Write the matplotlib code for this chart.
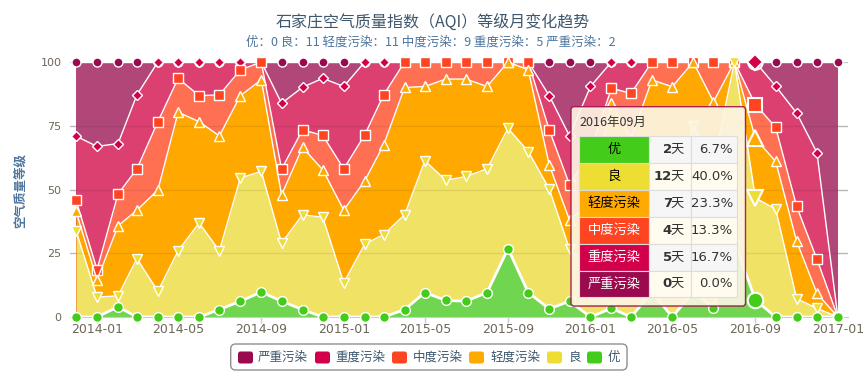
import numpy as np
import pandas as pd
import matplotlib
matplotlib.use('Agg')
import matplotlib.pyplot as plt
import matplotlib.dates as mdates
from matplotlib.patches import FancyBboxPatch, Rectangle

plt.rcParams['font.family'] = ['DejaVu Sans', 'Noto Sans CJK SC']
CJK = ['Noto Sans CJK SC', 'DejaVu Sans']

# ── Data: monthly share (%) of days per AQI level, 2013-12 … 2017-01 ─────────
months = pd.date_range('2013-12-01', periods=38, freq='MS')

pct_you = [0, 0, 4.0, 0, 0, 0, 0, 2.9, 6.2, 9.8,
           6.2, 2.9, 0, 0, 0, 0, 2.9, 9.6, 6.5, 6.2,
           9.6, 26.8, 9.6, 3.2, 6.2, 0, 3.4, 0, 9.8, 0,
           9.8, 3.6, 29.5, 6.7, 0, 0, 0, 0]
pct_liang = [33.8, 7.8, 4.3, 22.9, 10.1, 26.0, 36.9, 23.1, 48.3, 47.3,
             22.8, 37.2, 39.1, 13.4, 28.6, 32.3, 37.2, 51.7, 47.1, 48.9,
             48.5, 47.2, 55.3, 47.1, 20.4, 20.0, 41.6, 35.0, 45.2, 50.0,
             65.2, 56.4, 70.5, 40.0, 42.3, 7.2, 3.4, 0]
pct_light = [7.6, 6.7, 27.4, 19.0, 39.7, 54.3, 39.7, 45.0, 32.3, 35.9,
             18.9, 26.4, 18.6, 28.5, 24.8, 35.2, 49.9, 29.1, 39.7, 38.2,
             32.3, 26.0, 32.0, 9.4, 11.4, 25.0, 38.8, 35.0, 38.0, 40.3,
             25.0, 24.4, 0, 23.3, 18.7, 22.5, 5.9, 0]
pct_moderate = [4.4, 4.1, 12.5, 16.2, 26.8, 13.3, 10.2, 16.1, 10.1, 7.0,
                10.1, 6.9, 13.5, 16.2, 18.0, 19.6, 10.0, 9.6, 6.7, 6.7,
                9.6, 0, 3.1, 13.7, 13.9, 20.0, 5.9, 17.7, 7.0, 9.7,
                0, 15.6, 0, 13.3, 13.4, 13.7, 13.4, 0]
pct_heavy = [25.1, 48.3, 19.8, 29.0, 23.4, 6.4, 13.2, 12.9, 3.1, 0,
             25.8, 16.7, 22.4, 32.3, 28.6, 12.9, 0, 0, 0, 0,
             0, 0, 0, 13.4, 19.1, 25.4, 10.3, 12.3, 0, 0,
             0, 0, 0, 16.7, 16.1, 36.6, 41.8, 0]
pct_severe = [29.1, 33.1, 32.0, 12.9, 0, 0, 0, 0, 0, 0,
              16.2, 9.9, 6.4, 9.6, 0, 0, 0, 0, 0, 0,
              0, 0, 0, 13.2, 29.0, 9.6, 0, 0, 0, 0,
              0, 0, 0, 0, 9.5, 20.0, 35.5, 100]

# tooltip month (2016-09), day counts per level, from 优 to 严重污染
tip_label = '2016年09月'
tip_names = ['优', '良', '轻度污染', '中度污染', '重度污染', '严重污染']
tip_days = [2, 12, 7, 4, 5, 0]

legend_names = ['严重污染', '重度污染', '中度污染', '轻度污染', '良', '优']
title = '石家庄空气质量指数（AQI）等级月变化趋势'
subtitle = '优：0 良：11 轻度污染：11 中度污染：9 重度污染：5 严重污染：2'

# ── Styles (bottom → top of the stack) ───────────────────────────────────────
series = [pct_you, pct_liang, pct_light, pct_moderate, pct_heavy, pct_severe]
COLORS = ['#44CC1A', '#EEDD33', '#FFAA00', '#FF4422', '#D2004A', '#9B0A4E']
FILLS = ['#70D650', '#F0E264', '#FFA800', '#FF7052', '#DC4070', '#B14778']
MARKERS = ['o', 'v', '^', 's', 'D', 'o']
MSIZE = [7, 7, 7, 6.5, 5, 6.5]
TEXT_BLUE = '#3E576F'
AXIS_GREY = '#6E6658'

W, H = 866, 383
fig = plt.figure(figsize=(W / 100, H / 100), dpi=100)
ax = fig.add_axes([70 / W, 1 - 317 / H, (848 - 70) / W, (317 - 62) / H])

x = mdates.date2num(months)
cum = np.cumsum(np.array(series, dtype=float), axis=0)

# gridlines under everything (visible only outside the data span)
for v in [25, 50, 75, 100]:
    ax.axhline(v, color='#C8C8C8', lw=1, zorder=0.5)

# areas: paint from the top of the stack downwards, each from 0
for k in range(5, -1, -1):
    ax.fill_between(x, 0, cum[k], color=FILLS[k], lw=0, zorder=1)

# gridlines showing through the semi-transparent fills
for v in [25, 50, 75]:
    ax.axhline(v, color='black', alpha=0.08, lw=1, zorder=2)

# white series lines and markers (严重 drawn first, 优 last)
for k in range(5, -1, -1):
    z = 3 + (5 - k)
    ax.plot(x, cum[k], color='white', lw=2 if k == 0 else 1, zorder=z)
    ax.plot(x, cum[k], ls='none', marker=MARKERS[k], ms=MSIZE[k],
            mfc=COLORS[k], mec='white', mew=1, zorder=z + 0.5, clip_on=False)

# hovered month: enlarged markers
hi = 33
for k in range(5, -1, -1):
    ax.plot(x[hi], cum[k][hi], ls='none', marker=MARKERS[k], ms=MSIZE[k] * 1.6,
            mfc=COLORS[k], mec='white', mew=1.5, zorder=20, clip_on=False)

ax.set_ylim(0, 100)
ax.set_xlim(x[0] - 9, x[-1] + 15)
ax.set_yticks([0, 25, 50, 75, 100])
ax.tick_params(axis='y', length=0, pad=6, labelsize=8, labelcolor=AXIS_GREY)
ticks = pd.date_range('2014-01-01', '2017-01-01', freq='4MS')
ax.set_xticks(mdates.date2num(ticks))
ax.set_xticklabels([t.strftime('%Y-%m') for t in ticks])
ax.tick_params(axis='x', length=4, width=1, color='#C0D0E0', pad=0,
               labelsize=9, labelcolor=AXIS_GREY)
for name, sp in ax.spines.items():
    sp.set_visible(name == 'bottom')
ax.spines['bottom'].set_color('#C0D0E0')
ax.spines['bottom'].set_zorder(2.5)
ax.patch.set_visible(False)

# ── Overlay in pixel coordinates for titles, tooltip and legend ─────────────
ov = fig.add_axes([0, 0, 1, 1])
ov.set_xlim(0, W)
ov.set_ylim(H, 0)
ov.axis('off')
ov.set_zorder(10)

ov.text(433, 22, title, ha='center', va='center', fontsize=11.5,
        color=TEXT_BLUE, family=CJK)
ov.text(431, 42, subtitle, ha='center', va='center', fontsize=9,
        color='#4D759E', family=CJK)
ov.text(20, 190, '空气质量等级', ha='center', va='center', rotation=90,
        fontsize=9, fontweight='bold', color='#4D759E', family=CJK)

# tooltip
ov.add_patch(FancyBboxPatch((572, 108), 174, 199, boxstyle='round,pad=0,rounding_size=3',
                            fc='black', ec='none', alpha=0.08))
ov.add_patch(FancyBboxPatch((571, 106.7), 174.5, 199.3, boxstyle='round,pad=0,rounding_size=3',
                            fc='#FFF8E8', ec='#A0104E', lw=1, alpha=0.9))
ov.text(579, 122.5, tip_label, ha='left', va='center', fontsize=9,
        color='#333333', family=CJK)
total = sum(tip_days)
cols = [579, 649.3, 690.7, 737.3]
row_h = 26.9
for r, (nm, d) in enumerate(zip(tip_names, tip_days)):
    y0 = 136 + r * row_h
    ov.add_patch(Rectangle((cols[0], y0), cols[1] - cols[0], row_h,
                           fc=COLORS[r], ec='#DDDDDD', lw=0.8))
    bg = '#F6F6F6' if r % 2 == 0 else '#FFFBEF'
    for c in (1, 2):
        ov.add_patch(Rectangle((cols[c], y0), cols[c + 1] - cols[c], row_h,
                               fc=bg, ec='#DDDDDD', lw=0.8))
    yc = y0 + row_h / 2
    ov.text((cols[0] + cols[1]) / 2, yc, nm, ha='center', va='center', fontsize=9.5,
            color='black' if r < 3 else 'white', family=CJK)
    ov.text(684, yc, '天', ha='right', va='center', fontsize=9.5,
            color='#333333', family=CJK)
    ov.text(672, yc, str(d), ha='right', va='center', fontsize=9.5,
            fontweight='bold', color='#333333')
    ov.text(733, yc, f'{d / total * 100:.1f}%', ha='right', va='center',
            fontsize=9.5, color='#333333')

# legend
ov.add_patch(FancyBboxPatch((230.7, 344), 396.3, 26, boxstyle='round,pad=0,rounding_size=5',
                            fc='white', ec='#909090', lw=1))
sq_x = [238, 315, 392, 469, 547, 587]
txt_x = [258, 335, 413, 490, 568, 608]
legend_colors = COLORS[::-1]
for sx, tx, nm, col in zip(sq_x, txt_x, legend_names, legend_colors):
    ov.add_patch(FancyBboxPatch((sx, 351.5), 15, 12, boxstyle='round,pad=0,rounding_size=2.5',
                                fc=col, ec='none'))
    ov.text(tx, 357.5, nm, ha='left', va='center', fontsize=9,
            color=TEXT_BLUE, family=CJK)

fig.savefig('out.png', dpi=100)
